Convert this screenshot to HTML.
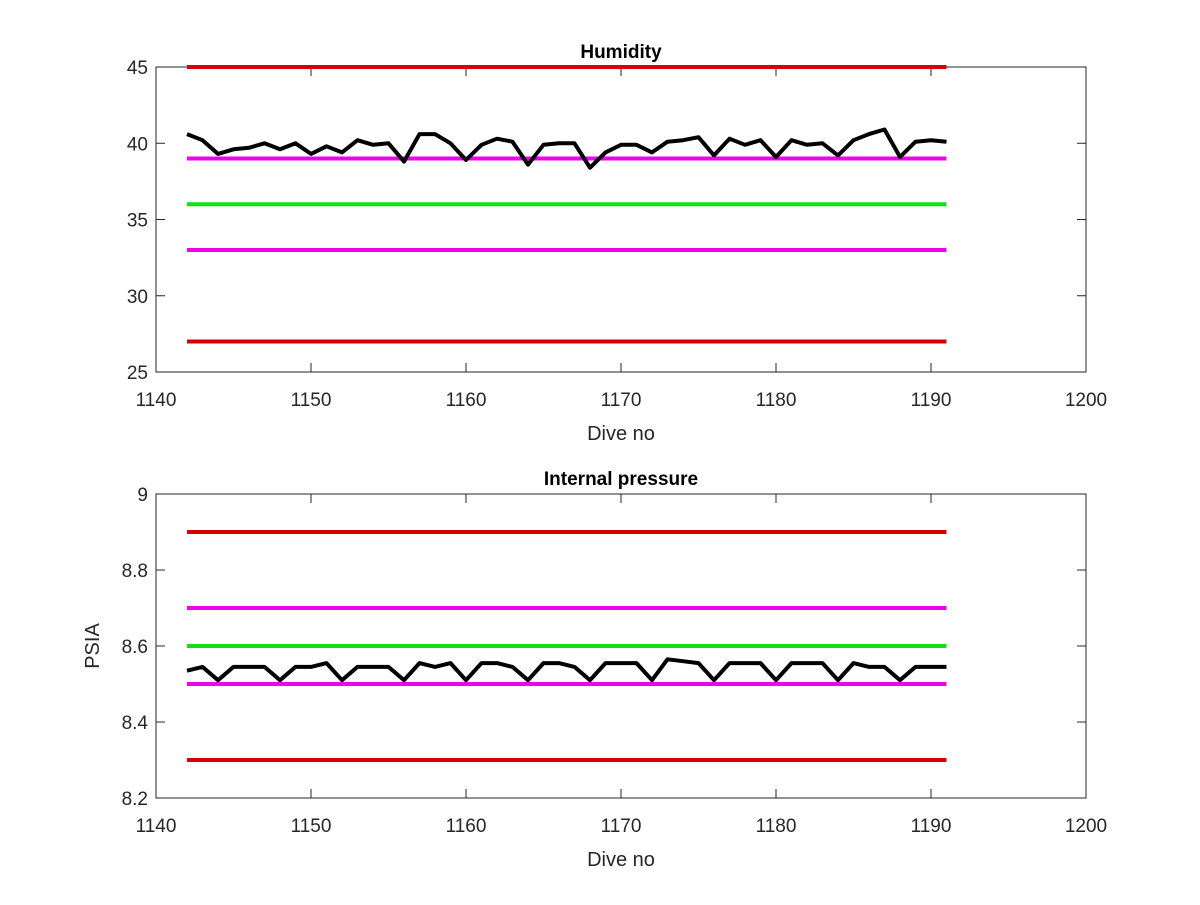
<!DOCTYPE html>
<html><head><meta charset="utf-8"><style>
body{margin:0;background:#fff;}
svg text{font-family:"Liberation Sans",sans-serif;fill:#262626;}
</style></head><body>
<svg id="c" width="1200" height="900" xmlns="http://www.w3.org/2000/svg"></svg>
<script>
const dives = [];
for (let d = 1142; d <= 1191; d++) dives.push(d);
const humidity = [40.6,40.2,39.3,39.6,39.7,40.0,39.6,40.0,39.3,39.8,39.4,40.2,39.9,40.0,38.8,40.6,40.6,40.0,38.9,39.9,40.3,40.1,38.6,39.9,40.0,40.0,38.4,39.4,39.9,39.9,39.4,40.1,40.2,40.4,39.2,40.3,39.9,40.2,39.1,40.2,39.9,40.0,39.2,40.2,40.6,40.9,39.1,40.1,40.2,40.1];
const pressure = [8.535,8.545,8.51,8.545,8.545,8.545,8.51,8.545,8.545,8.555,8.51,8.545,8.545,8.545,8.51,8.555,8.545,8.555,8.51,8.555,8.555,8.545,8.51,8.555,8.555,8.545,8.51,8.555,8.555,8.555,8.51,8.565,8.56,8.555,8.51,8.555,8.555,8.555,8.51,8.555,8.555,8.555,8.51,8.555,8.545,8.545,8.51,8.545,8.545,8.545];
const humRefs = [45,39,36,33,27];
const presRefs = [8.9,8.7,8.6,8.5,8.3];
const refColors = ['#d40000','#ee00ee','#11e011','#ee00ee','#d40000'];
const xTicks = [1140,1150,1160,1170,1180,1190,1200];
const humTicks = [25,30,35,40,45];
const presTicks = [8.2,8.4,8.6,8.8,9];
const humTickLabels = ['25','30','35','40','45'];
const presTickLabels = ['8.2','8.4','8.6','8.8','9'];

const svg = document.getElementById('c');
const NS = 'http://www.w3.org/2000/svg';
function mk(tag, attrs, parent){const e=document.createElementNS(NS,tag);for(const k in attrs)e.setAttribute(k,attrs[k]);(parent||svg).appendChild(e);return e;}

function panel(name, top, bottom, ymin, ymax, yTicks, yLabels, refs, series, title, ylabel){
  const L=156,R=1086;
  const g=mk('g',{});
  
  
  const sx=v=>L+(v-1140)/(1200-1140)*(R-L);
  const sy=v=>bottom-(v-ymin)/(ymax-ymin)*(bottom-top);
  const box=mk('rect',{x:L,y:top,width:R-L,height:bottom-top,fill:'#fff',stroke:'#262626','stroke-width':1},g);
  
  
  xTicks.forEach(t=>{
    const x=sx(t);
    mk('line',{x1:x,y1:bottom,x2:x,y2:bottom-9,stroke:'#262626'},g);
    mk('line',{x1:x,y1:top,x2:x,y2:top+9,stroke:'#262626'},g);
    const tx=mk('text',{x:x,y:bottom+34,'font-size':19,'text-anchor':'middle'},g);
    tx.textContent=t;
    
    
  });
  yTicks.forEach((t,i)=>{
    const y=sy(t);
    mk('line',{x1:L,y1:y,x2:L+9,y2:y,stroke:'#262626'},g);
    mk('line',{x1:R,y1:y,x2:R-9,y2:y,stroke:'#262626'},g);
    const tx=mk('text',{x:L-8,y:y+7,'font-size':19,'text-anchor':'end'},g);
    tx.textContent=yLabels[i];
    
    
  });
  refs.forEach((r,i)=>{
    const ln=mk('line',{x1:sx(dives[0]),x2:sx(dives[dives.length-1]),y1:sy(r),y2:sy(r),stroke:refColors[i],'stroke-width':4},g);
    
    
  });
  const pts=series.map((v,i)=>sx(dives[i]).toFixed(1)+','+sy(v).toFixed(1)).join(' ');
  const pl=mk('polyline',{points:pts,fill:'none',stroke:'#000','stroke-width':4,'stroke-linejoin':'round'},g);
  
  
  const tt=mk('text',{x:(L+R)/2,y:top-9,'font-size':19,'font-weight':'bold','text-anchor':'middle',style:'fill:#000'},g);
  tt.textContent=title;
  
  
  const xl=mk('text',{x:(L+R)/2,y:bottom+68,'font-size':20,'text-anchor':'middle'},g);
  xl.textContent='Dive no';
  
  
  if(ylabel){
    const yl=mk('text',{x:0,y:0,'font-size':20,'text-anchor':'middle',transform:`translate(99,${(top+bottom)/2}) rotate(-90)`},g);
    yl.textContent=ylabel;
    
    
  }
}
panel('humidity',67,372,25,45,humTicks,humTickLabels,humRefs,humidity,'Humidity',null);
panel('pressure',494,798,8.2,9,presTicks,presTickLabels,presRefs,pressure,'Internal pressure','PSIA');
</script>
</body></html>
